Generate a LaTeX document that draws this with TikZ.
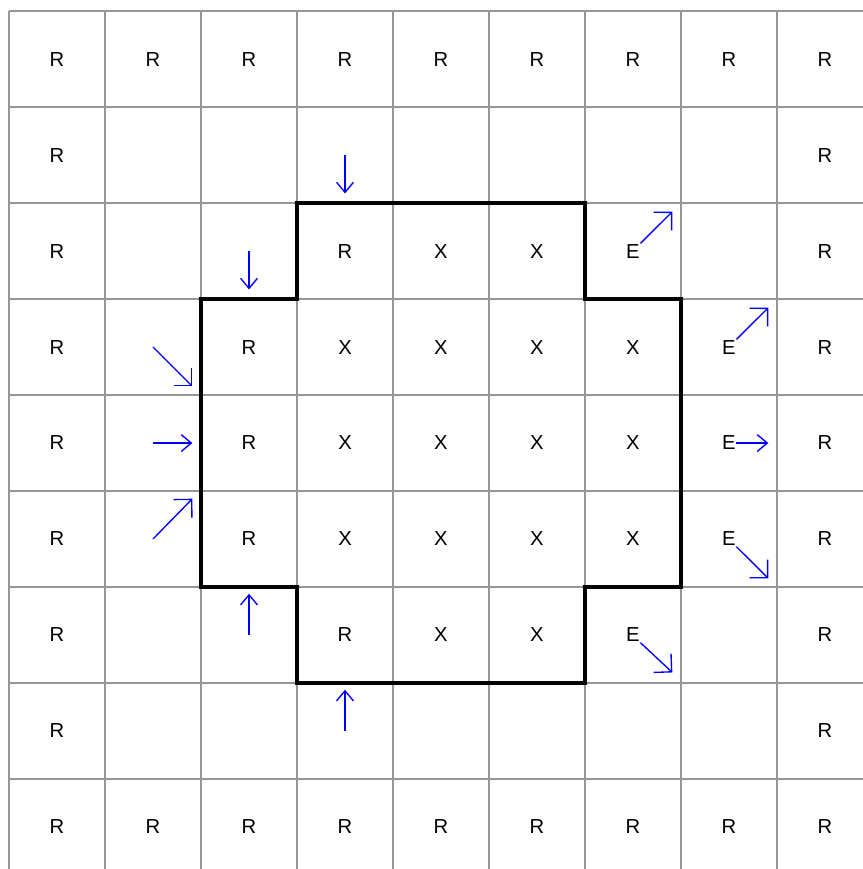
\documentclass[tikz,border=0pt]{standalone}
\usepackage{fontspec}
\setmainfont{Liberation Sans}
\usetikzlibrary{arrows.meta}
\definecolor{gridgrey}{RGB}{150,150,150}
\definecolor{flowblue}{RGB}{0,0,255}
\tikzset{
  gridline/.style={draw=gridgrey, line width=0.6pt},
  boundary/.style={draw=black, line width=1.3pt},
  cell/.style={inner sep=0pt, font=\fontsize{6}{7}\selectfont},
  flow/.style={flowblue, line width=0.4pt,
               -{Straight Barb[length=3pt,width=5pt]}},
  flowdiag/.style={flowblue, line width=0.4pt,
                   -{Straight Barb[length=3.8pt,width=7.6pt]}},
}

\begin{document}
\begin{tikzpicture}[x=1cm,y=-1cm]
  \path[use as bounding box] (-0.094,-0.115) rectangle (8.896,8.9375);

  % Grid of 9 x 9 cells.
  \foreach \k in {0,...,9}{
    \draw[gridline] (\k,0) -- (\k,9);
    \draw[gridline] (0,\k) -- (9,\k);
  }

  % Border cells.
  \foreach \k in {0,...,8}{
    \node[cell] (c-\k-0) at (\k+0.5,0.5) {R};
    \node[cell] (c-\k-8) at (\k+0.5,8.5) {R};
  }
  \foreach \k in {1,...,7}{
    \node[cell] (c-0-\k) at (0.5,\k+0.5) {R};
    \node[cell] (c-8-\k) at (8.5,\k+0.5) {R};
  }

  % Region cells.
  \foreach \i/\j/\t in {3/2/R,4/2/X,5/2/X,6/2/E,
                        2/3/R,3/3/X,4/3/X,5/3/X,6/3/X,7/3/E,
                        2/4/R,3/4/X,4/4/X,5/4/X,6/4/X,7/4/E,
                        2/5/R,3/5/X,4/5/X,5/5/X,6/5/X,7/5/E,
                        3/6/R,4/6/X,5/6/X,6/6/E}{
    \node[cell] (c-\i-\j) at (\i+0.5,\j+0.5) {\t};
  }

  % Region boundary.
  \draw[boundary] (3,2) -- (6,2) -- (6,3) -- (7,3) -- (7,6) -- (6,6)
    -- (6,7) -- (3,7) -- (3,6) -- (2,6) -- (2,3) -- (3,3) -- cycle;

  % Entering arrows.
  \foreach \name/\cx/\cy/\dx/\dy in {in1/3.5/1.5/0/0.4, in2/2.5/2.5/0/0.4,
                                     in3/2.5/6.5/0/-0.43, in4/3.5/7.5/0/-0.43,
                                     in5/1.5/4.5/0.41/0}{
    \coordinate (\name-s) at (\cx,\cy);
    \coordinate (\name-e) at (\cx+\dx,\cy+\dy);
    \draw[flow] (\name-s) -- (\name-e);
  }
  \foreach \name/\cx/\cy/\dx/\dy in {in6/1.5/3.5/0.41/0.41,
                                     in7/1.5/5.5/0.41/-0.42}{
    \coordinate (\name-s) at (\cx,\cy);
    \coordinate (\name-e) at (\cx+\dx,\cy+\dy);
    \draw[flowdiag] (\name-s) -- (\name-e);
  }

  % Exit arrows.
  \coordinate (out1) at (6.91,2.09);
  \coordinate (out2) at (7.91,3.09);
  \coordinate (out3) at (7.91,4.5);
  \coordinate (out4) at (7.91,5.91);
  \coordinate (out5) at (6.91,6.89);
  \draw[flowdiag] (c-6-2.north east) -- (out1);
  \draw[flowdiag] (c-7-3.north east) -- (out2);
  \draw[flow] (c-7-4.east) -- (out3);
  \draw[flowdiag] (c-7-5.south east) -- (out4);
  \draw[flowdiag] (c-6-6.south east) -- (out5);
\end{tikzpicture}
\end{document}
